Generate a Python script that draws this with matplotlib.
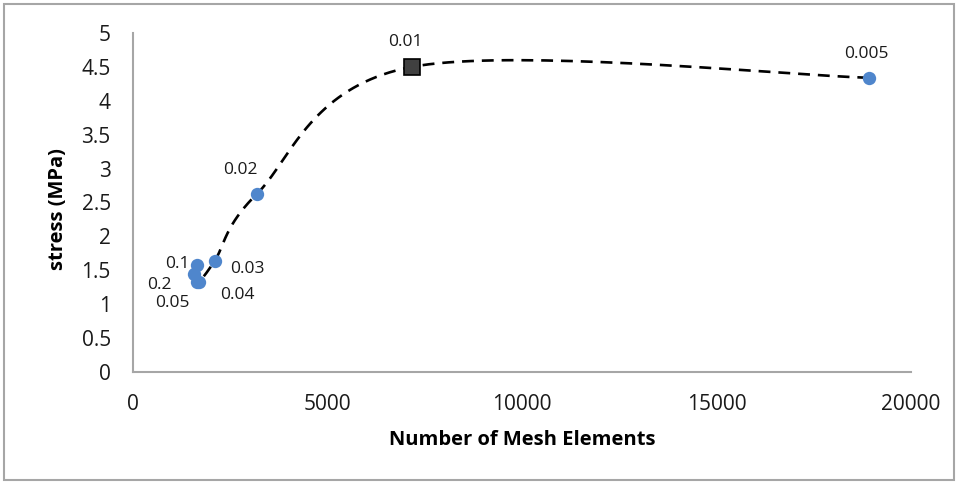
import numpy as np
import matplotlib
matplotlib.use("Agg")
import matplotlib.pyplot as plt
from matplotlib.patches import Rectangle

# mesh size labels, element counts and stress readings
mesh_sizes = ["0.2", "0.1", "0.05", "0.04", "0.03", "0.02", "0.01", "0.005"]
elements = [1560, 1650, 1640, 1700, 2100, 3190, 7170, 18920]
stress = [1.45, 1.58, 1.33, 1.33, 1.64, 2.63, 4.50, 4.34]
converged = "0.01"

x_ticks = [0, 5000, 10000, 15000, 20000]
y_ticks = [0, 0.5, 1, 1.5, 2, 2.5, 3, 3.5, 4, 4.5, 5]

# label offsets in pixels (dx, dy) relative to each marker
label_offsets = {
    "0.2": (-34, -11), "0.1": (-20, 1), "0.05": (-24, -21), "0.04": (38, -13),
    "0.03": (33, -8), "0.02": (-17, 24), "0.01": (-7, 25), "0.005": (-3, 24),
}


def smooth(xs, ys, n=40):
    """Catmull-Rom curve through the points, like Excel's smoothed line."""
    p = np.column_stack([xs, ys]).astype(float)
    p = np.vstack([p[0], p, p[-1]])
    out = []
    t = np.linspace(0, 1, n)[:, None]
    for i in range(1, len(p) - 2):
        p0, p1, p2, p3 = p[i - 1], p[i], p[i + 1], p[i + 2]
        m1 = (p2 - p0) / 2
        m2 = (p3 - p1) / 2
        h00 = 2 * t**3 - 3 * t**2 + 1
        h10 = t**3 - 2 * t**2 + t
        h01 = -2 * t**3 + 3 * t**2
        h11 = t**3 - t**2
        out.append(h00 * p1 + h10 * m1 + h01 * p2 + h11 * m2)
    c = np.vstack(out)
    return c[:, 0], c[:, 1]


plt.rcParams["font.family"] = ["Open Sans", "DejaVu Sans"]

fig = plt.figure(figsize=(9.57, 4.83), dpi=100)
fig.patches.append(Rectangle((0.004, 0.007), 0.993, 0.985, transform=fig.transFigure,
                             fill=False, edgecolor="#a6a6a6", linewidth=1.5))
ax = fig.add_axes([0.139, 0.2298, 0.813, 0.7019])

cx, cy = smooth(elements, stress)
ax.plot(cx, cy, color="black", linewidth=1.9, dashes=(4.5, 3), zorder=2)

for name, x, y in zip(mesh_sizes, elements, stress):
    if name == converged:
        ax.plot(x, y, marker="s", markersize=12, markerfacecolor="#404040",
                markeredgecolor="black", markeredgewidth=1.2, zorder=4)
    else:
        ax.plot(x, y, marker="o", markersize=9.6, color="#4f86cc",
                markeredgewidth=0, zorder=3)
    dx, dy = label_offsets[name]
    ax.annotate(name, (x, y), xytext=(dx * 0.72, dy * 0.72), textcoords="offset points",
                ha="center", va="center", fontsize=12.5, color="#1a1a1a", zorder=5)

ax.set_xlim(0, 20000)
ax.set_ylim(0, 5)
ax.set_xticks(x_ticks)
ax.set_yticks(y_ticks)
ax.set_yticklabels([f"{v:g}" for v in y_ticks])
ax.tick_params(length=0, labelsize=15, colors="#1a1a1a", pad=16)

for s in ["top", "right"]:
    ax.spines[s].set_visible(False)
for s in ["left", "bottom"]:
    ax.spines[s].set_color("#a6a6a6")
    ax.spines[s].set_linewidth(1.5)

ax.set_xlabel("Number of Mesh Elements", fontsize=14.5, fontweight="bold", va="center")
ax.xaxis.set_label_coords(0.5, -0.2006)
ax.set_ylabel("stress (MPa)", fontsize=14.5, fontweight="bold", va="center", ha="center")
ax.yaxis.set_label_coords(-0.0964, 0.481)

fig.savefig("out.png", dpi=100)
